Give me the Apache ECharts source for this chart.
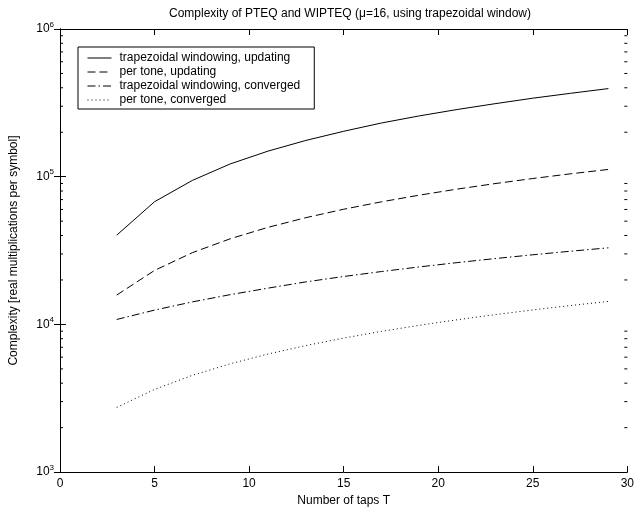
<!DOCTYPE html>
<html>
<head>
<meta charset="utf-8">
<script src="https://cdn.jsdelivr.net/npm/echarts@6/dist/echarts.min.js"></script>
<style>
html,body{margin:0;padding:0;background:#fff;}
#c{width:637px;height:512px;}
</style>
</head>
<body>
<div id="c"></div>
<script>
// Number of taps T
const taps = [3, 5, 7, 9, 11, 13, 15, 17, 19, 21, 23, 25, 27, 29];
// Complexity values (real multiplications per symbol)
const trapUpdating = [40200, 67700, 94400, 122000, 149000, 176000, 203000, 231000, 258000, 285000, 312000, 340000, 367000, 395000];
const toneUpdating = [15800, 23200, 30600, 38000, 45400, 52800, 60200, 67600, 75000, 82400, 89800, 97200, 104600, 112000];
const trapConverged = [10800, 12500, 14200, 15900, 17600, 19400, 21100, 22800, 24500, 26200, 27900, 29600, 31300, 33000];
const toneConverged = [2740, 3630, 4520, 5410, 6300, 7190, 8080, 8970, 9860, 10750, 11640, 12530, 13420, 14310];
const seriesNames = ['trapezoidal windowing, updating', 'per tone, updating', 'trapezoidal windowing, converged', 'per tone, converged'];
const xTicks = [0, 5, 10, 15, 20, 25, 30];
const yDecades = [1000, 10000, 100000, 1000000];
const minorTickValues = [];
for (let d = 1000; d < 1000000; d *= 10) { for (let k = 2; k <= 9; k++) minorTickValues.push(k * d); }

const FONT = '"Liberation Sans", Arial, Helvetica, sans-serif';
const chart = echarts.init(document.getElementById('c'), null, {renderer: 'canvas'});

function pairs(ys) { return taps.map((t, i) => [t, ys[i]]); }
const dashStyles = ['solid', [8, 4], [8, 3, 1.5, 3], [1, 3]];
const allData = [trapUpdating, toneUpdating, trapConverged, toneConverged];

const lineSeries = allData.map((ys, i) => ({
  name: seriesNames[i], type: 'line', data: pairs(ys), symbol: 'none',
  xAxisIndex: 0, yAxisIndex: 0,
  lineStyle: {color: '#000', width: 1, type: dashStyles[i]},
  itemStyle: {color: '#000'},
  silent: true, animation: false
}));

const minorSeries = {
  type: 'custom', xAxisIndex: 0, yAxisIndex: 0, silent: true, animation: false, clip: false,
  data: minorTickValues.map(v => [0, v]),
  renderItem: function (params, api) {
    const v = api.value(1);
    const l = api.coord([0, v]);
    const r = api.coord([30, v]);
    return {type: 'group', children: [
      {type: 'line', shape: {x1: l[0], y1: l[1], x2: l[0] + 3, y2: l[1]}, style: {stroke: '#000', lineWidth: 1}},
      {type: 'line', shape: {x1: r[0], y1: r[1], x2: r[0] - 3, y2: r[1]}, style: {stroke: '#000', lineWidth: 1}}
    ]};
  }
};

const axisLineStyle = {show: true, lineStyle: {color: '#000', width: 1}};
const supRich = {
  b: {fontFamily: FONT, fontSize: 12, color: '#000'},
  s: {fontFamily: FONT, fontSize: 8, color: '#000', verticalAlign: 'bottom', padding: [0, 0, 9, 0]}
};

chart.setOption({
  backgroundColor: '#fff',
  animation: false,
  title: {
    text: 'Complexity of PTEQ and WIPTEQ (\u03bc=16, using trapezoidal window)',
    left: 345, textAlign: 'center', top: 3,
    textStyle: {fontFamily: FONT, fontSize: 12, fontWeight: 'normal', color: '#000'}
  },
  legend: {
    data: seriesNames, orient: 'vertical', left: 78, top: 47,
    padding: [4, 14, 2, 9], itemGap: 0, itemWidth: 24, itemHeight: 14,
    borderColor: '#000', borderWidth: 1, backgroundColor: '#fff', borderRadius: 0,
    itemStyle: {opacity: 0, borderWidth: 0},
    lineStyle: {width: 1},
    textStyle: {fontFamily: FONT, fontSize: 12, color: '#000', lineHeight: 14, padding: [0, 0, 0, 3]},
    selectedMode: false
  },
  grid: {left: 60, right: 7, top: 29, bottom: 33, containLabel: false},
  xAxis: [
    {type: 'value', position: 'bottom', min: 0, max: 30, interval: 5,
     axisLine: axisLineStyle, axisTick: {show: true, inside: true, length: 6, lineStyle: {color: '#000'}},
     axisLabel: {fontFamily: FONT, fontSize: 12, color: '#000', margin: 6,
       formatter: v => xTicks.indexOf(v) >= 0 ? String(v) : ''},
     splitLine: {show: false},
     name: 'Number of taps T', nameLocation: 'middle', nameGap: 20,
     nameTextStyle: {fontFamily: FONT, fontSize: 12, color: '#000'}},
    {type: 'value', position: 'top', min: 0, max: 30, interval: 5,
     axisLine: axisLineStyle, axisTick: {show: true, inside: true, length: 6, lineStyle: {color: '#000'}},
     axisLabel: {show: false}, splitLine: {show: false}}
  ],
  yAxis: [
    {type: 'log', logBase: 10, position: 'left', min: 1000, max: 1000000,
     axisLine: axisLineStyle, axisTick: {show: true, inside: true, length: 6, lineStyle: {color: '#000'}},
     axisLabel: {margin: 6, rich: supRich,
       formatter: v => '{b|10}{s|' + Math.round(Math.log10(v)) + '}'},
     splitLine: {show: false},
     name: 'Complexity [real multiplications per symbol]', nameLocation: 'middle', nameGap: 40,
     nameTextStyle: {fontFamily: FONT, fontSize: 12, color: '#000'}},
    {type: 'log', logBase: 10, position: 'right', min: 1000, max: 1000000,
     axisLine: axisLineStyle, axisTick: {show: true, inside: true, length: 6, lineStyle: {color: '#000'}},
     axisLabel: {show: false}, splitLine: {show: false}}
  ],
  series: lineSeries.concat([minorSeries])
});
</script>
</body>
</html>
